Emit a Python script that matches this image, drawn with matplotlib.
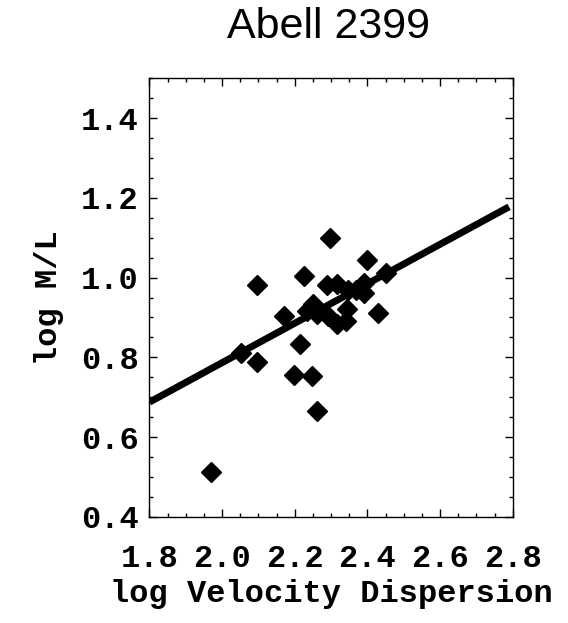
import numpy as np
import matplotlib
matplotlib.use("Agg")
import matplotlib.pyplot as plt
from matplotlib.ticker import MultipleLocator

# log sigma / log M/L for the Abell 2399 galaxies
log_sigma = np.array([2.297, 2.398, 2.451, 2.095, 2.225, 2.290, 2.315, 2.347,
                      2.369, 2.391, 2.391, 2.343, 2.430, 2.170, 2.233, 2.251,
                      2.260, 2.292, 2.315, 2.341, 2.051, 2.095, 2.214, 2.198,
                      2.247, 2.260, 1.968])
log_ml = np.array([1.100, 1.043, 1.011, 0.981, 1.004, 0.981, 0.983, 0.969,
                   0.969, 0.987, 0.961, 0.922, 0.912, 0.904, 0.917, 0.933,
                   0.908, 0.904, 0.883, 0.892, 0.811, 0.789, 0.833, 0.756,
                   0.752, 0.666, 0.512])

# fitted relation: log M/L = a + b * (log sigma - 1.8)
fit_a = 0.6875
fit_b = 0.495
fit_x = np.array([1.8, 2.79])

fig = plt.figure(figsize=(5.68, 6.23), dpi=100)
ax = fig.add_axes([0.2632, 0.1706, 0.6394, 0.7037])

ax.plot(fit_x, fit_a + fit_b * (fit_x - 1.8), color="black", lw=5,
        solid_capstyle="butt", zorder=2)
ax.plot(log_sigma, log_ml, "D", color="black", ms=10.5, zorder=3)

ax.set_xlim(1.8, 2.8)
ax.set_ylim(0.4, 1.5)
ax.xaxis.set_major_locator(MultipleLocator(0.2))
ax.xaxis.set_minor_locator(MultipleLocator(0.05))
ax.yaxis.set_major_locator(MultipleLocator(0.2))
ax.yaxis.set_minor_locator(MultipleLocator(0.05))
ax.set_yticks([0.4, 0.6, 0.8, 1.0, 1.2, 1.4])

mono = {"family": "Liberation Mono", "size": 23, "weight": "bold"}
ax.set_xticklabels([f"{v:.1f}" for v in ax.get_xticks()], fontdict=mono)
ax.set_yticklabels([f"{v:.1f}" for v in ax.get_yticks()], fontdict=mono)

ax.tick_params(which="both", direction="in", top=True, right=True, width=1)
ax.tick_params(which="major", length=6)
ax.tick_params(which="minor", length=3)
ax.tick_params(axis="x", which="major", pad=20)
ax.tick_params(axis="y", which="major", pad=8)
for s in ax.spines.values():
    s.set_linewidth(1)

ax.set_xlabel("log Velocity Dispersion", fontdict=mono, labelpad=3)
ax.set_ylabel("log M/L", fontdict=mono, labelpad=12)

fig.text(0.578, 0.957, "Abell 2399", family="Liberation Sans", fontsize=31,
         ha="center", va="center")

fig.savefig("out.png", dpi=100)
